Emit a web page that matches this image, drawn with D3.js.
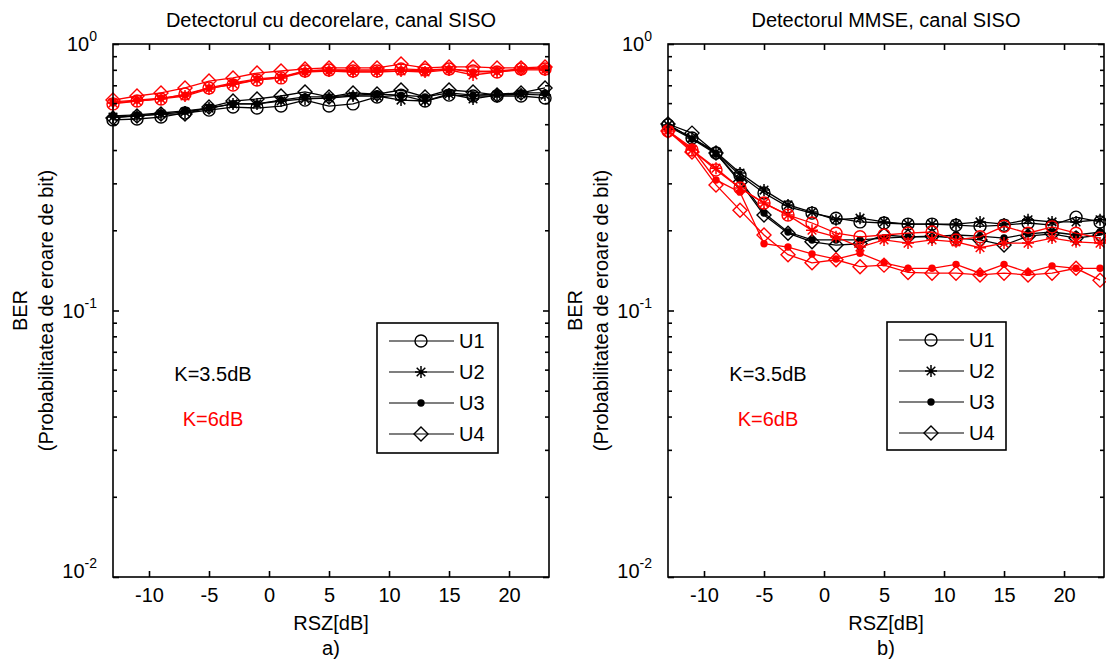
<!DOCTYPE html>
<html><head><meta charset="utf-8">
<script src="https://cdn.jsdelivr.net/npm/d3@7"></script>
<style>
body{margin:0;background:#fff;}
svg{display:block;font-family:Arial,"Liberation Sans",Helvetica,sans-serif;}
</style></head><body>
<svg id="chart" width="1106" height="660"></svg>
<script>
// SNR axis (dB) and tick values
const rsz = [-13,-11,-9,-7,-5,-3,-1,1,3,5,7,9,11,13,15,17,19,21,23];
const xTicks = [-10,-5,0,5,10,15,20];
const yMajor = [0.01,0.1,1];
const yMajorExp = ["-2","-1","0"];
const userNames = ["U1","U2","U3","U4"];
const kLabels = ["K=3.5dB","K=6dB"];

// Decorrelating detector, K = 3.5 dB
const dec35U1 = [0.519,0.523,0.532,0.551,0.565,0.580,0.575,0.585,0.616,0.585,0.596,0.633,0.643,0.611,0.643,0.638,0.638,0.638,0.627];
const dec35U2 = [0.532,0.537,0.546,0.556,0.575,0.596,0.596,0.611,0.622,0.627,0.638,0.638,0.616,0.611,0.649,0.622,0.643,0.649,0.643];
const dec35U3 = [0.537,0.542,0.551,0.561,0.575,0.596,0.596,0.616,0.633,0.633,0.643,0.649,0.643,0.633,0.655,0.643,0.649,0.655,0.655];
const dec35U4 = [0.528,0.537,0.546,0.546,0.580,0.611,0.622,0.638,0.661,0.633,0.655,0.649,0.672,0.633,0.672,0.661,0.643,0.655,0.684];
// Decorrelating detector, K = 6 dB
const dec6U1 = [0.596,0.611,0.622,0.649,0.684,0.702,0.733,0.746,0.792,0.799,0.792,0.792,0.806,0.799,0.806,0.792,0.785,0.806,0.806];
const dec6U2 = [0.601,0.611,0.622,0.638,0.678,0.708,0.733,0.746,0.785,0.792,0.785,0.785,0.792,0.785,0.799,0.765,0.785,0.799,0.799];
const dec6U3 = [0.606,0.616,0.627,0.643,0.684,0.714,0.739,0.752,0.792,0.799,0.799,0.799,0.799,0.792,0.806,0.785,0.792,0.806,0.813];
const dec6U4 = [0.616,0.638,0.655,0.684,0.726,0.746,0.778,0.792,0.806,0.813,0.813,0.813,0.841,0.813,0.820,0.820,0.813,0.813,0.820];
// MMSE detector, K = 3.5 dB
const mmse35U1 = [0.497,0.444,0.390,0.322,0.276,0.245,0.232,0.222,0.215,0.213,0.211,0.211,0.209,0.207,0.209,0.213,0.209,0.224,0.215];
const mmse35U2 = [0.497,0.444,0.393,0.328,0.283,0.249,0.234,0.219,0.222,0.215,0.211,0.211,0.211,0.215,0.211,0.219,0.215,0.215,0.219];
const mmse35U3 = [0.492,0.440,0.387,0.309,0.232,0.197,0.184,0.184,0.184,0.187,0.189,0.189,0.192,0.190,0.187,0.194,0.197,0.192,0.197];
const mmse35U4 = [0.501,0.463,0.390,0.303,0.228,0.195,0.181,0.176,0.178,0.192,0.189,0.190,0.187,0.184,0.176,0.190,0.194,0.187,0.192];
// MMSE detector, K = 6 dB
const mmse6U1 = [0.472,0.400,0.337,0.288,0.253,0.228,0.213,0.195,0.189,0.192,0.195,0.197,0.184,0.189,0.207,0.195,0.206,0.195,0.187];
const mmse6U2 = [0.472,0.400,0.342,0.288,0.253,0.228,0.200,0.189,0.173,0.184,0.179,0.184,0.181,0.172,0.179,0.179,0.187,0.181,0.179];
const mmse6U3 = [0.472,0.407,0.309,0.278,0.178,0.173,0.163,0.156,0.164,0.151,0.144,0.144,0.149,0.138,0.149,0.139,0.147,0.144,0.144];
const mmse6U4 = [0.472,0.393,0.296,0.238,0.192,0.162,0.151,0.155,0.146,0.148,0.139,0.138,0.138,0.136,0.138,0.136,0.138,0.144,0.130];

const svg = d3.select("#chart");
const markerKinds = ["circle","star","dot","diamond"];
const FS = 20;

function drawMarker(g, kind, cx, cy, color) {
  if (kind === "circle") {
    g.append("circle").attr("cx", cx).attr("cy", cy).attr("r", 6)
      .attr("fill", "none").attr("stroke", color).attr("stroke-width", 1.4);
  } else if (kind === "dot") {
    g.append("circle").attr("cx", cx).attr("cy", cy).attr("r", 3.7).attr("fill", color);
  } else if (kind === "diamond") {
    const s = 7;
    g.append("path").attr("d", `M${cx},${cy-s}L${cx+s},${cy}L${cx},${cy+s}L${cx-s},${cy}Z`)
      .attr("fill", "none").attr("stroke", color).attr("stroke-width", 1.4);
  } else {
    const s = 6, d = 4.3;
    g.append("path")
      .attr("d", `M${cx},${cy-s}V${cy+s}M${cx-s},${cy}H${cx+s}M${cx-d},${cy-d}L${cx+d},${cy+d}M${cx-d},${cy+d}L${cx+d},${cy-d}`)
      .attr("stroke", color).attr("stroke-width", 1.5).attr("fill", "none");
  }
}

function drawPanel(cfg) {
  const {left, right, top, bottom} = cfg;
  const x = d3.scaleLinear().domain([-13, 23.33]).range([left, right]);
  const y = d3.scaleLog().domain([0.01, 1]).range([bottom, top]);
  const g = svg.append("g");

  // series: K=3.5dB in black first, then K=6dB in red on top
  const groups = [{color: "#000", sets: cfg.k35}, {color: "#ff0000", sets: cfg.k6}];
  const line = d3.line().x((d, i) => x(rsz[i])).y(d => y(d));
  groups.forEach(grp => {
    grp.sets.forEach((vals, u) => {
      const sg = g.append("g");
      sg.append("path").attr("d", line(vals)).attr("fill", "none")
        .attr("stroke", grp.color).attr("stroke-width", 1.3);
      vals.forEach((v, i) => drawMarker(sg, markerKinds[u], x(rsz[i]), y(v), grp.color));
    });
  });

  // axes with inward ticks on all four sides
  const minor = y.ticks().filter(v => !yMajor.some(m => Math.abs(m - v) < 1e-9));
  const ax = g.append("g").attr("class", "axes");
  ax.append("g").attr("transform", `translate(0,${bottom})`)
    .call(d3.axisBottom(x).tickValues(xTicks).tickSizeInner(-6).tickSizeOuter(0).tickPadding(11)
      .tickFormat(d => String(d)));
  ax.append("g").attr("transform", `translate(0,${top})`)
    .call(d3.axisTop(x).tickValues(xTicks).tickSizeInner(-6).tickSizeOuter(0).tickFormat(""));
  ax.append("g").attr("transform", `translate(${left},0)`)
    .call(d3.axisLeft(y).tickValues(yMajor).tickSizeInner(-6).tickSizeOuter(0).tickFormat(""));
  ax.append("g").attr("transform", `translate(${left},0)`)
    .call(d3.axisLeft(y).tickValues(minor).tickSizeInner(-4).tickSizeOuter(0).tickFormat(""));
  ax.append("g").attr("transform", `translate(${right},0)`)
    .call(d3.axisRight(y).tickValues(yMajor).tickSizeInner(-6).tickSizeOuter(0).tickFormat(""));
  ax.append("g").attr("transform", `translate(${right},0)`)
    .call(d3.axisRight(y).tickValues(minor).tickSizeInner(-4).tickSizeOuter(0).tickFormat(""));
  ax.selectAll(".domain").remove();
  ax.selectAll(".tick line").attr("stroke", "#000").attr("stroke-width", 1.6);
  ax.selectAll(".tick text").attr("font-size", FS).attr("fill", "#000")
    .attr("font-family", "Arial, 'Liberation Sans', sans-serif");
  g.append("rect").attr("x", left).attr("y", top).attr("width", right - left).attr("height", bottom - top)
    .attr("fill", "none").attr("stroke", "#000").attr("stroke-width", 1.6);

  // decade labels 10^n
  yMajor.forEach((v, i) => {
    const ty = Math.min(y(v) + 7, bottom + 1);
    const t = g.append("text").attr("x", left - 16).attr("y", ty).attr("text-anchor", "end")
      .attr("font-size", FS);
    t.append("tspan").text("10");
    t.append("tspan").attr("font-size", 14).attr("dy", -10).text(yMajorExp[i]);
  });

  // title and axis labels
  const cx = (left + right) / 2;
  g.append("text").attr("x", cx).attr("y", 27).attr("text-anchor", "middle")
    .attr("font-size", FS).text(cfg.title);
  g.append("text").attr("x", cx).attr("y", 630).attr("text-anchor", "middle")
    .attr("font-size", FS).text("RSZ[dB]");
  g.append("text").attr("x", cx).attr("y", 655).attr("text-anchor", "middle")
    .attr("font-size", FS).text(cfg.sub);
  const cy = (top + bottom) / 2;
  g.append("text").attr("transform", `translate(${left - 86},${cy}) rotate(-90)`)
    .attr("text-anchor", "middle").attr("font-size", FS).text("BER");
  g.append("text").attr("transform", `translate(${left - 60},${cy}) rotate(-90)`)
    .attr("text-anchor", "middle").attr("font-size", FS).text("(Probabilitatea de eroare de bit)");

  // K annotations
  g.append("text").attr("x", left + 100).attr("y", 381).attr("text-anchor", "middle")
    .attr("font-size", FS).attr("fill", "#000").text(kLabels[0]);
  g.append("text").attr("x", left + 100).attr("y", 426).attr("text-anchor", "middle")
    .attr("font-size", FS).attr("fill", "#ff0000").text(kLabels[1]);

  // legend
  const L = cfg.legend;
  const lg = g.append("g");
  lg.append("rect").attr("x", L.x).attr("y", L.y).attr("width", L.w).attr("height", L.h)
    .attr("fill", "#fff").attr("stroke", "#000").attr("stroke-width", 1.6);
  userNames.forEach((name, u) => {
    const ly = L.y + 18 + u * 31;
    lg.append("line").attr("x1", L.x + 12).attr("x2", L.x + 77).attr("y1", ly).attr("y2", ly)
      .attr("stroke", "#000").attr("stroke-width", 1.2);
    drawMarker(lg, markerKinds[u], L.x + 44, ly, "#000");
    lg.append("text").attr("x", L.x + 82).attr("y", ly + 7).attr("font-size", FS).text(name);
  });
}

drawPanel({
  left: 113, right: 549, top: 44, bottom: 577,
  title: "Detectorul cu decorelare, canal SISO", sub: "a)",
  k35: [dec35U1, dec35U2, dec35U3, dec35U4],
  k6: [dec6U1, dec6U2, dec6U3, dec6U4],
  legend: {x: 377, y: 323, w: 121, h: 130}
});
drawPanel({
  left: 668, right: 1104, top: 44, bottom: 577,
  title: "Detectorul MMSE, canal SISO", sub: "b)",
  k35: [mmse35U1, mmse35U2, mmse35U3, mmse35U4],
  k6: [mmse6U1, mmse6U2, mmse6U3, mmse6U4],
  legend: {x: 887, y: 322, w: 119, h: 128}
});
</script>
</body></html>
